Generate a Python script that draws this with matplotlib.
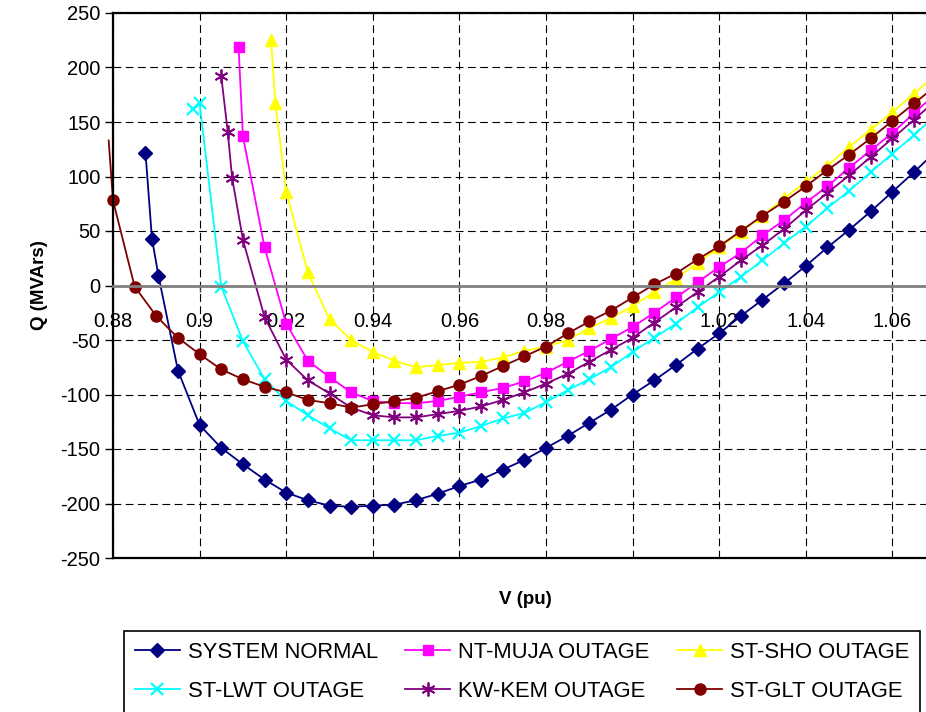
import matplotlib
matplotlib.use("Agg")
import matplotlib.pyplot as plt

plt.rcParams['font.family'] = ['Liberation Sans', 'DejaVu Sans']
plt.rcParams['axes.unicode_minus'] = False

# Q-V curves at the bus for each contingency (V in pu, Q in MVArs)
v_normal = [0.8875, 0.889, 0.8905, 0.895, 0.900, 0.905, 0.910, 0.915, 0.920, 0.925,
            0.930, 0.935, 0.940, 0.945, 0.950, 0.955, 0.960, 0.965, 0.970, 0.975,
            0.980, 0.985, 0.990, 0.995, 1.000, 1.005, 1.010, 1.015, 1.020, 1.025,
            1.030, 1.035, 1.040, 1.045, 1.050, 1.055, 1.060, 1.065, 1.070]
q_normal = [122, 43, 9, -78, -128, -149, -164, -178, -190, -197,
            -202, -203, -202, -201, -197, -191, -184, -178, -169, -160,
            -149, -138, -126, -114, -100, -87, -73, -58, -44, -28,
            -13, 2, 18, 35, 51, 68, 86, 104, 123]

v_muja = [0.909, 0.910, 0.915, 0.920, 0.925, 0.930, 0.935, 0.940, 0.945, 0.950,
          0.955, 0.960, 0.965, 0.970, 0.975, 0.980, 0.985, 0.990, 0.995, 1.000,
          1.005, 1.010, 1.015, 1.020, 1.025, 1.030, 1.035, 1.040, 1.045, 1.050,
          1.055, 1.060, 1.065, 1.070]
q_muja = [219, 137, 35, -35, -69, -84, -98, -106, -108, -108,
          -106, -102, -98, -94, -88, -80, -70, -60, -49, -38,
          -25, -11, 3, 17, 30, 46, 60, 76, 91, 108,
          124, 140, 158, 176]

v_sho = [0.9165, 0.9175, 0.920, 0.925, 0.930, 0.935, 0.940, 0.945, 0.950, 0.955,
         0.960, 0.965, 0.970, 0.975, 0.980, 0.985, 0.990, 0.995, 1.000, 1.005,
         1.010, 1.015, 1.020, 1.025, 1.030, 1.035, 1.040, 1.045, 1.050, 1.055,
         1.060, 1.065, 1.070]
q_sho = [225, 167, 86, 12, -31, -50, -61, -69, -75, -73,
         -71, -70, -66, -60, -56, -50, -39, -30, -19, -6,
         6, 21, 35, 49, 64, 80, 95, 110, 127, 143,
         159, 176, 193]

v_lwt = [0.8985, 0.900, 0.905, 0.910, 0.915, 0.920, 0.925, 0.930, 0.935, 0.940,
         0.945, 0.950, 0.955, 0.960, 0.965, 0.970, 0.975, 0.980, 0.985, 0.990,
         0.995, 1.000, 1.005, 1.010, 1.015, 1.020, 1.025, 1.030, 1.035, 1.040,
         1.045, 1.050, 1.055, 1.060, 1.065, 1.070]
q_lwt = [162, 167, -1, -51, -86, -106, -119, -131, -142, -142,
         -142, -142, -138, -135, -129, -122, -117, -107, -96, -86,
         -75, -61, -48, -35, -20, -6, 8, 23, 39, 54,
         71, 87, 104, 121, 138, 156]

v_kem = [0.905, 0.9065, 0.9075, 0.910, 0.915, 0.920, 0.925, 0.930, 0.935, 0.940,
         0.945, 0.950, 0.955, 0.960, 0.965, 0.970, 0.975, 0.980, 0.985, 0.990,
         0.995, 1.000, 1.005, 1.010, 1.015, 1.020, 1.025, 1.030, 1.035, 1.040,
         1.045, 1.050, 1.055, 1.060, 1.065, 1.070]
q_kem = [192, 141, 99, 42, -29, -68, -87, -99, -112, -119,
         -121, -121, -118, -115, -111, -105, -98, -90, -81, -70,
         -59, -48, -34, -20, -6, 8, 23, 37, 52, 69,
         85, 101, 118, 135, 152, 170]

v_glt = [0.879, 0.880, 0.885, 0.890, 0.895, 0.900, 0.905, 0.910, 0.915, 0.920,
         0.925, 0.930, 0.935, 0.940, 0.945, 0.950, 0.955, 0.960, 0.965, 0.970,
         0.975, 0.980, 0.985, 0.990, 0.995, 1.000, 1.005, 1.010, 1.015, 1.020,
         1.025, 1.030, 1.035, 1.040, 1.045, 1.050, 1.055, 1.060, 1.065, 1.070]
q_glt = [133, 78, -1, -28, -48, -63, -77, -86, -93, -98,
         -105, -108, -112, -109, -106, -103, -97, -91, -83, -74,
         -65, -56, -44, -33, -23, -11, 1, 11, 24, 36,
         50, 64, 77, 91, 106, 120, 135, 151, 167, 183]

x_ticks = [0.88, 0.90, 0.92, 0.94, 0.96, 0.98, 1.00, 1.02, 1.04, 1.06]
x_labels = ['0.88', '0.9', '0.92', '0.94', '0.96', '0.98', '1', '1.02', '1.04', '1.06']
y_ticks = [250, 200, 150, 100, 50, 0, -50, -100, -150, -200, -250]

fig = plt.figure(figsize=(9.26, 7.12), dpi=100)
ax = fig.add_axes([113 / 926, 1 - 558 / 712, (926 - 113) / 926, (558 - 13) / 712])

lw = 1.3
h_normal, = ax.plot(v_normal, q_normal, color='#000080', lw=lw, marker='D', ms=7,
                    label='SYSTEM NORMAL')
h_muja, = ax.plot(v_muja, q_muja, color='#FF00FF', lw=lw, marker='s', ms=7,
                  label='NT-MUJA OUTAGE')
h_sho, = ax.plot(v_sho, q_sho, color='#FFFF00', lw=lw, marker='^', ms=8.5,
                 label='ST-SHO OUTAGE')
h_lwt, = ax.plot(v_lwt, q_lwt, color='#00FFFF', lw=lw, marker='x', ms=9, mew=1.6,
                 label='ST-LWT OUTAGE')
h_kem, = ax.plot(v_kem, q_kem, color='#800080', lw=lw, marker=(6, 2, 0), ms=10, mew=1.3,
                 label='KW-KEM OUTAGE')
# first point sits left of the axis, so only its line is shown
h_glt, = ax.plot(v_glt, q_glt, color='#800000', lw=lw, marker='o', ms=8,
                 markevery=slice(1, None), clip_on=False, label='ST-GLT OUTAGE')

ax.set_xlim(0.88, 0.88 + (926 - 113) / 86.6 * 0.02)
ax.set_ylim(-250, 250)
ax.set_xticks(x_ticks)
ax.set_xticklabels(x_labels)
ax.set_yticks(y_ticks)
ax.set_yticklabels([str(t) for t in y_ticks])

ax.set_axisbelow(True)
ax.grid(True, color='black', lw=0.8, linestyle=(0, (7, 4)))

ax.spines['right'].set_visible(False)
ax.spines['top'].set_linewidth(1.6)
ax.spines['left'].set_linewidth(1.6)
ax.spines['bottom'].set_position(('data', 0))
ax.spines['bottom'].set_color('#808080')
ax.spines['bottom'].set_linewidth(2)
ax.axhline(-250, color='black', lw=1.6, clip_on=False)

ax.tick_params(axis='y', direction='out', length=6, width=1, pad=3, labelsize=14.5)
ax.tick_params(axis='x', direction='out', length=4, width=1, color='#404040',
               pad=15, labelsize=14.5)

fig.text(525 / 926, 1 - 600 / 712, 'V (pu)', ha='center', va='center',
         fontsize=13.5, fontweight='bold')
fig.text(40 / 926, 1 - 285 / 712, 'Q (MVArs)', ha='center', va='center',
         rotation=90, fontsize=13.5, fontweight='bold')

handles = [h_normal, h_lwt, h_muja, h_kem, h_sho, h_glt]
leg = fig.legend(handles=handles, labels=[h.get_label() for h in handles],
                 ncol=3, loc='upper left', bbox_to_anchor=(124 / 926, 1 - 631 / 712),
                 fontsize=15.8, frameon=True, fancybox=False, edgecolor='black',
                 framealpha=1, handlelength=2.05, handletextpad=0.36,
                 columnspacing=1.25, labelspacing=0.8, borderpad=0.5, borderaxespad=0)
leg.get_frame().set_linewidth(1.2)

fig.savefig('out.png', dpi=100)
